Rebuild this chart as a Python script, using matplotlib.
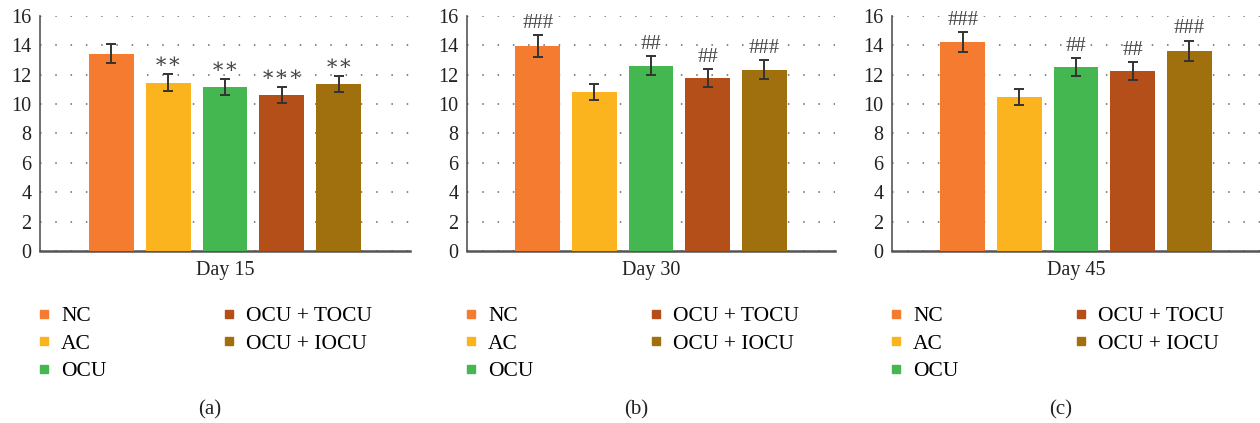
import numpy as np
import matplotlib
matplotlib.use("Agg")
import matplotlib.pyplot as plt
from matplotlib.lines import Line2D

plt.rcParams['font.family'] = ['Liberation Serif', 'DejaVu Serif']

groups = ["NC", "AC", "OCU", "OCU + TOCU", "OCU + IOCU"]
colors = ["#F47B30", "#FBB41E", "#44B751", "#B44F1A", "#A0700F"]
days = ["Day 15", "Day 30", "Day 45"]
panel_tags = ["(a)", "(b)", "(c)"]

# means and error (SD)
day15 = [13.42, 11.45, 11.17, 10.62, 11.37]
day15_err = [0.65, 0.57, 0.55, 0.52, 0.55]
day30 = [13.95, 10.83, 12.60, 11.78, 12.33]
day30_err = [0.73, 0.57, 0.65, 0.62, 0.65]
day45 = [14.23, 10.48, 12.53, 12.25, 13.62]
day45_err = [0.70, 0.53, 0.60, 0.60, 0.70]

day15_sig = ["", "∗∗", "∗∗", "∗∗∗", "∗∗"]
day30_sig = ["###", "", "##", "##", "###"]
day45_sig = ["###", "", "##", "##", "###"]

means = [day15, day30, day45]
errs = [day15_err, day30_err, day45_err]
sigs = [day15_sig, day30_sig, day45_sig]

W, H = 1260, 423
fig = plt.figure(figsize=(W / 100, H / 100), dpi=100)

# axes boxes in pixels: left, right
boxes = [(40, 410), (467, 835), (892, 1260)]
top_px, bot_px = 16, 251
fs = 14.5
lfs = 15.5

for i, (l, r) in enumerate(boxes):
    ax = fig.add_axes([l / W, 1 - bot_px / H, (r - l) / W, (bot_px - top_px) / H])
    x = np.arange(len(groups))
    ax.bar(x, means[i], width=0.79, color=colors, zorder=3)
    ax.errorbar(x, means[i], yerr=errs[i], fmt='none', ecolor='#333333',
                elinewidth=1.4, capsize=3.5, capthick=1.4, zorder=4)
    for xi, m, e, s in zip(x, means[i], errs[i], sigs[i]):
        if s:
            ax.text(xi, m + e + 0.15, s, ha='center', va='bottom',
                    fontsize=fs + 0.5, color='#444444', zorder=5,
                    family=['DejaVu Serif'] if '∗' in s else ['Liberation Serif'])
    ax.set_xlim(-1.25, 5.25)
    ax.set_ylim(0, 16)
    ax.set_yticks(np.arange(0, 17, 2))
    ax.set_xticks([])
    ax.yaxis.grid(True, linestyle=(0, (1, 9)), color='#666666', linewidth=1.1, zorder=0)
    ax.set_axisbelow(True)
    for side in ['top', 'right']:
        ax.spines[side].set_visible(False)
    ax.spines['left'].set_color('#555555')
    ax.spines['left'].set_linewidth(1.2)
    ax.spines['bottom'].set_color('#555555')
    ax.spines['bottom'].set_linewidth(1.8)
    ax.tick_params(axis='y', length=0, labelsize=fs, pad=6, labelcolor='#222222')
    ax.set_xlabel(days[i], fontsize=fs, color='#222222', labelpad=7)

    handles = [Line2D([], [], marker='s', linestyle='none', markersize=6,
                      markerfacecolor=c, markeredgecolor=c) for c in colors]
    ax.legend(handles, groups, ncol=2, loc='upper left',
              bbox_to_anchor=((l - 2.5) / W, 1 - 306 / H), bbox_transform=fig.transFigure,
              frameon=False, fontsize=lfs, handlelength=0.6, handletextpad=0.5,
              columnspacing=5.4, labelspacing=0.35, borderpad=0, borderaxespad=0)

    fig.text((l + r) / 2 / W - 15 / W, 1 - 410 / H, panel_tags[i], ha='center',
             va='center', fontsize=15, color='#222222')

fig.savefig("out.png", dpi=100)
